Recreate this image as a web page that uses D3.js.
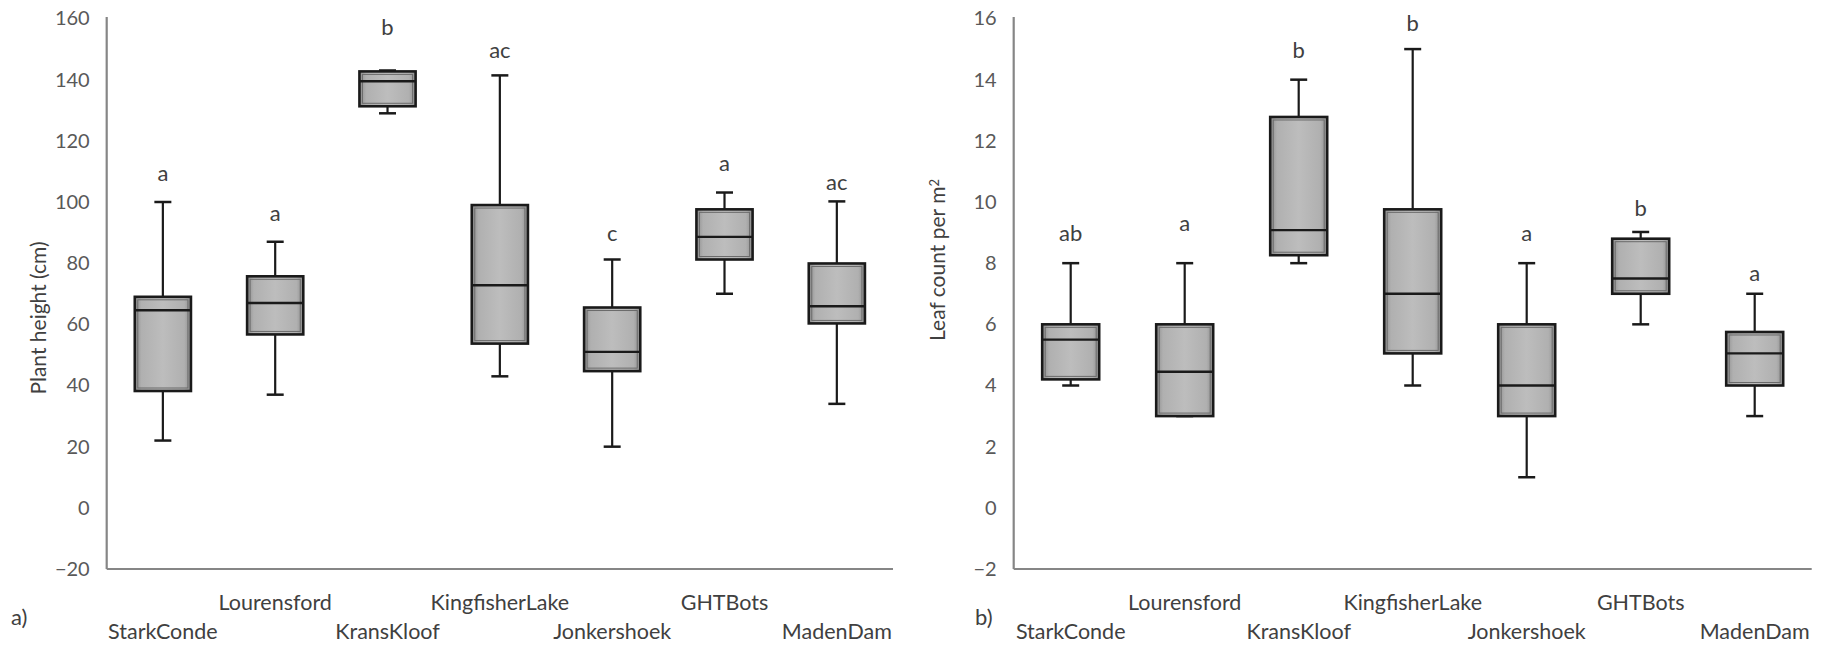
<!DOCTYPE html>
<html>
<head>
<meta charset="utf-8">
<script src="https://cdn.jsdelivr.net/npm/d3@7"></script>
<style>
  html, body { margin: 0; padding: 0; background: #fff; }
  svg { display: block; font-family: Lato, "Open Sans", sans-serif; }
</style>
</head>
<body>
<svg id="chart" width="1832" height="646"></svg>
<script>
// ---------- DATA ----------
const sites = ["StarkConde", "Lourensford", "KransKloof", "KingfisherLake", "Jonkershoek", "GHTBots", "MadenDam"];

// Panel a) Plant height (cm)
const heightMin    = [22, 37, 129, 43, 20, 70, 34];
const heightQ1     = [38.2, 56.7, 131.3, 53.7, 44.7, 81.2, 60.3];
const heightMedian = [64.6, 67.0, 139.5, 72.8, 51.0, 88.6, 65.9];
const heightQ3     = [69.0, 75.7, 142.7, 99.0, 65.5, 97.6, 79.9];
const heightMax    = [100, 87, 143, 141.4, 81.2, 103.1, 100.2];
const heightLetters = ["a", "a", "b", "ac", "c", "a", "ac"];
const heightLetterPos = [109.4, 96.3, 157, 149.5, 89.8, 112.6, 106.4];
const heightTicks = [-20, 0, 20, 40, 60, 80, 100, 120, 140, 160];

// Panel b) Leaf count per m²
const leafMin    = [4, 3, 8, 4, 1, 6, 3];
const leafQ1     = [4.2, 3, 8.26, 5.05, 3, 7.0, 4];
const leafMedian = [5.5, 4.45, 9.08, 7.0, 4, 7.5, 5.05];
const leafQ3     = [6, 6, 12.78, 9.76, 6, 8.8, 5.75];
const leafMax    = [8, 8, 14, 15, 8, 9.02, 7];
const leafLetters = ["ab", "a", "b", "b", "a", "b", "a"];
const leafLetterPos = [8.98, 9.3, 14.96, 15.84, 8.98, 9.79, 7.67];
const leafTicks = [-2, 0, 2, 4, 6, 8, 10, 12, 14, 16];

// ---------- DRAWING ----------
const svg = d3.select("#chart");

const defs = svg.append("defs");
const grad = defs.append("linearGradient").attr("id", "boxFill").attr("x1", 0).attr("x2", 1).attr("y1", 0).attr("y2", 0);
grad.append("stop").attr("offset", "0%").attr("stop-color", "#8e8e8e");
grad.append("stop").attr("offset", "12%").attr("stop-color", "#b0b0b0");
grad.append("stop").attr("offset", "50%").attr("stop-color", "#bdbdbd");
grad.append("stop").attr("offset", "88%").attr("stop-color", "#b0b0b0");
grad.append("stop").attr("offset", "100%").attr("stop-color", "#8e8e8e");

function panel(cfg) {
  const g = svg.append("g");
  const x = d3.scaleBand().domain(sites).range([cfg.x0, cfg.x1]).paddingInner(0).paddingOuter(0);
  const y = d3.scaleLinear().domain(cfg.domain).range([cfg.yBottom, cfg.yTop]);
  const boxW = x.bandwidth() * 0.5;
  const capW = 17;

  // y axis
  const yAxis = d3.axisLeft(y).tickValues(cfg.ticks).tickSize(0).tickPadding(17).tickFormat(d3.format("d"));
  const ya = g.append("g").attr("transform", `translate(${cfg.x0},0)`).call(yAxis);
  ya.select(".domain").attr("stroke", "#868686").attr("stroke-width", 2.2)
    .attr("d", `M0,${cfg.yBottom}V${cfg.yTop - 1.5}`);
  ya.selectAll("text").attr("fill", "#595959").style("font-size", "20px").style("font-family", "Lato, sans-serif");

  // x axis
  const xAxis = d3.axisBottom(x).tickSize(0).tickPadding(0);
  const xa = g.append("g").attr("transform", `translate(0,${cfg.yBottom})`).call(xAxis);
  xa.select(".domain").attr("stroke", "#868686").attr("stroke-width", 2.2)
    .attr("d", `M${cfg.x0},0H${cfg.x1}`);
  xa.selectAll(".tick text")
    .attr("fill", "#404040")
    .style("font-size", "21.5px")
    .style("font-family", "Lato, sans-serif")
    .attr("dy", null)
    .attr("y", (d, i) => i % 2 === 1 ? 41 : 70);

  const boxes = g.append("g").selectAll("g.box").data(sites).join("g").attr("class", "box")
    .attr("transform", d => `translate(${x(d) + x.bandwidth() / 2},0)`);

  // whiskers
  boxes.append("line").attr("x1", 0).attr("x2", 0)
    .attr("y1", (d, i) => y(cfg.max[i])).attr("y2", (d, i) => y(cfg.q3[i]))
    .attr("stroke", "#1a1a1a").attr("stroke-width", 2.2);
  boxes.append("line").attr("x1", 0).attr("x2", 0)
    .attr("y1", (d, i) => y(cfg.q1[i])).attr("y2", (d, i) => y(cfg.min[i]))
    .attr("stroke", "#1a1a1a").attr("stroke-width", 2.2);
  boxes.append("line").attr("x1", -capW / 2).attr("x2", capW / 2)
    .attr("y1", (d, i) => y(cfg.max[i])).attr("y2", (d, i) => y(cfg.max[i]))
    .attr("stroke", "#1a1a1a").attr("stroke-width", 2.5);
  boxes.append("line").attr("x1", -capW / 2).attr("x2", capW / 2)
    .attr("y1", (d, i) => y(cfg.min[i])).attr("y2", (d, i) => y(cfg.min[i]))
    .attr("stroke", "#1a1a1a").attr("stroke-width", 2.5);

  // box
  boxes.append("rect")
    .attr("x", -boxW / 2).attr("width", boxW)
    .attr("y", (d, i) => y(cfg.q3[i]))
    .attr("height", (d, i) => y(cfg.q1[i]) - y(cfg.q3[i]))
    .attr("fill", "url(#boxFill)")
    .attr("stroke", "#1a1a1a").attr("stroke-width", 2.6);
  boxes.append("rect")
    .attr("x", -boxW / 2 + 3).attr("width", boxW - 6)
    .attr("y", (d, i) => y(cfg.q3[i]) + 3)
    .attr("height", (d, i) => Math.max(0, y(cfg.q1[i]) - y(cfg.q3[i]) - 6))
    .attr("fill", "none")
    .attr("stroke", "#6a6a6a").attr("stroke-width", 1);
  // median
  boxes.append("line").attr("x1", -boxW / 2).attr("x2", boxW / 2)
    .attr("y1", (d, i) => y(cfg.median[i])).attr("y2", (d, i) => y(cfg.median[i]))
    .attr("stroke", "#1a1a1a").attr("stroke-width", 2.4);

  // letters
  boxes.append("text")
    .attr("x", 0).attr("y", (d, i) => y(cfg.letterPos[i]))
    .attr("dy", "0.35em")
    .attr("text-anchor", "middle")
    .attr("fill", "#404040")
    .style("font-size", "22px")
    .text((d, i) => cfg.letters[i]);

  // y title
  const t = g.append("text")
    .attr("transform", `translate(${cfg.titleX},${cfg.titleY}) rotate(-90)`)
    .attr("text-anchor", "middle")
    .attr("fill", "#404040")
    .style("font-size", "21px");
  t.append("tspan").text(cfg.title);
  if (cfg.titleSup) {
    t.append("tspan").attr("dy", "-0.45em").style("font-size", "13px").text(cfg.titleSup);
  }

  // panel label
  g.append("text").attr("x", cfg.tagX).attr("y", 625)
    .attr("fill", "#404040").style("font-size", "22px").text(cfg.tag);
}

panel({
  x0: 106.7, x1: 893, yBottom: 569, yTop: 18.5, domain: [-20, 160], ticks: heightTicks,
  min: heightMin, q1: heightQ1, median: heightMedian, q3: heightQ3, max: heightMax,
  letters: heightLetters, letterPos: heightLetterPos,
  title: "Plant height (cm)", titleX: 46, titleY: 318, tag: "a)", tagX: 11
});

panel({
  x0: 1013.7, x1: 1811.7, yBottom: 569, yTop: 18.5, domain: [-2, 16], ticks: leafTicks,
  min: leafMin, q1: leafQ1, median: leafMedian, q3: leafQ3, max: leafMax,
  letters: leafLetters, letterPos: leafLetterPos,
  title: "Leaf count per m", titleSup: "2", titleX: 945, titleY: 260, tag: "b)", tagX: 975
});
</script>
</body>
</html>
